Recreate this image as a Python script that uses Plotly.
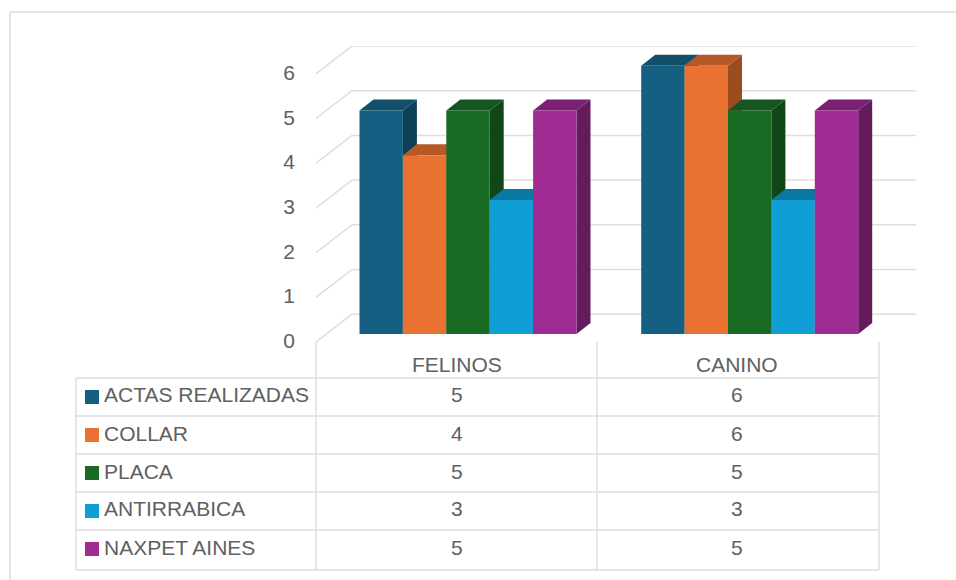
import plotly.graph_objects as go

# ---- data -------------------------------------------------------------
categories = ["FELINOS", "CANINO"]
series_names = ["ACTAS REALIZADAS", "COLLAR", "PLACA", "ANTIRRABICA", "NAXPET AINES"]
actas = [5, 6]
collar = [4, 6]
placa = [5, 5]
antirrabica = [3, 3]
naxpet = [5, 5]
y_ticks = [0, 1, 2, 3, 4, 5, 6]

series_values = [actas, collar, placa, antirrabica, naxpet]
front_colors = ["#156082", "#E97132", "#196B24", "#0F9ED5", "#A02B93"]
top_colors = ["#114F6B", "#B55A27", "#14561D", "#0B77A3", "#7A2171"]
side_colors = ["#0D3F56", "#9C4D1F", "#104718", "#096A91", "#641B5C"]

# ---- layout geometry (page pixels) ------------------------------------
W, H = 956, 580
PL, PR, PT, PB = 316, 916, 46, 342     # plot box
ZERO_PX = 334                          # bar plane zero
UNIT_PX = 44.7                         # pixels per value unit
LABEL_ZERO_PX, LABEL_UNIT_PX = 340.5, 44.6   # value labels sit on the front plane
CAT0_PX, CAT_STEP = 468, 281.7         # first category centre, spacing
BAR_PX = 43.4
DEPTH_X, DEPTH_Y = 14, 11
WALL_X = 36
FONT = "Liberation Sans"
FONT_SIZE = 21
GREY = "#606060"
LINE = "#DEDEDE"

def px(p):  # page x -> paper
    return (p - PL) / (PR - PL)
def py(p):  # page y -> paper
    return (PB - p) / (PB - PT)

xrange_ = [(PL - CAT0_PX) / CAT_STEP, (PR - CAT0_PX) / CAT_STEP]
yrange = [(ZERO_PX - PB) / UNIT_PX, (ZERO_PX - PT) / UNIT_PX]
dx, dy = DEPTH_X / CAT_STEP, DEPTH_Y / UNIT_PX
bw = BAR_PX / CAT_STEP
positions = list(range(len(categories)))

fig = go.Figure()
shapes = []
annotations = []

def line_paper(x0, y0, x1, y1, width=1.5, color=LINE):
    shapes.append(dict(type="line", xref="paper", yref="paper", x0=px(x0), y0=py(y0),
                       x1=px(x1), y1=py(y1), line=dict(color=color, width=width), layer="below"))

# back wall gridlines and slanted side lines
back_off = (ZERO_PX - PT) / UNIT_PX - 6                 # back plane offset in value units
front_off = (ZERO_PX - PB) / UNIT_PX                    # front plane offset
wall = WALL_X / CAT_STEP
for v in y_ticks:
    shapes.append(dict(type="line", xref="x", yref="y", x0=xrange_[0] + wall, x1=xrange_[1],
                       y0=v + back_off, y1=v + back_off, line=dict(color=LINE, width=1.5), layer="below"))
    shapes.append(dict(type="line", xref="x", yref="y", x0=xrange_[0], x1=xrange_[0] + wall,
                       y0=v + front_off, y1=v + back_off, line=dict(color=LINE, width=1.5), layer="below"))

# 3-D faces of the bars, built from the values
n = len(series_values)
for c, pos in enumerate(positions):
    for s, vals in enumerate(series_values):
        v = vals[c]
        x0 = pos + (s - n / 2) * bw
        x1 = x0 + bw
        top = f"M {x0} {v} L {x0+dx} {v+dy} L {x1+dx} {v+dy} L {x1} {v} Z"
        side = f"M {x1} 0 L {x1+dx} {dy} L {x1+dx} {v+dy} L {x1} {v} Z"
        shapes.append(dict(type="path", xref="x", yref="y", path=side, fillcolor=side_colors[s],
                           line=dict(width=0), layer="between"))
        shapes.append(dict(type="path", xref="x", yref="y", path=top, fillcolor=top_colors[s],
                           line=dict(width=0), layer="between"))

# front faces
for s, name in enumerate(series_names):
    fig.add_trace(go.Bar(x=positions, y=series_values[s], name=name,
                         marker=dict(color=front_colors[s], line=dict(width=0)),
                         showlegend=False, hoverinfo="x+y"))

# invisible trace that carries the front-plane value axis
fig.add_trace(go.Scatter(x=[positions[0]] * len(y_ticks), y=y_ticks, yaxis="y2", mode="markers",
                         marker=dict(opacity=0), showlegend=False, hoverinfo="skip"))

# data table
T_LEFT, T_C0, T_C1, T_C2 = 76, 316, 597, 879
ROWS = [378, 416, 454, 492, 530, 570]
for y in ROWS:
    line_paper(T_LEFT, y, T_C2, y)
line_paper(T_LEFT, ROWS[0], T_LEFT, ROWS[-1])
for x in (T_C0, T_C1, T_C2):
    line_paper(x, PB, x, ROWS[-1])

def text(x, y, t, anchor="center"):
    annotations.append(dict(xref="paper", yref="paper", x=px(x), y=py(y), text=t, showarrow=False,
                            xanchor=anchor, yanchor="middle", xshift=0,
                            font=dict(family=FONT, size=FONT_SIZE, color=GREY)))

col_centres = [457, 737]
for c, name in enumerate(categories):
    text(col_centres[c], 364, name)
for s, name in enumerate(series_names):
    row_top = ROWS[s]
    swatch_y = row_top + 19
    text_y = row_top + 17
    shapes.append(dict(type="rect", xref="paper", yref="paper", x0=px(85), x1=px(99),
                       y0=py(swatch_y - 7), y1=py(swatch_y + 7), fillcolor=front_colors[s], line=dict(width=0)))
    text(102, text_y, name, "left")
    for c in range(len(categories)):
        text(col_centres[c], text_y, str(series_values[s][c]))

# outer chart frame: only the top and left edges fall inside the picture
line_paper(10, 12, W, 12, 2, "#E4E4E4")
line_paper(10, 12, 10, H, 2, "#E4E4E4")

fig.update_layout(
    width=W, height=H, autosize=False,
    margin=dict(l=PL, r=W - PR, t=PT, b=H - PB, pad=0),
    paper_bgcolor="white", plot_bgcolor="rgba(0,0,0,0)",
    barmode="group", bargap=1 - n * bw, bargroupgap=0,
    showlegend=False,
    xaxis=dict(range=xrange_, showgrid=False, zeroline=False, showticklabels=False, ticks="",
               showline=False, fixedrange=True),
    yaxis=dict(range=yrange, showgrid=False, zeroline=False, showticklabels=False, ticks="",
               showline=False, fixedrange=True),
    yaxis2=dict(range=[(LABEL_ZERO_PX - PB) / LABEL_UNIT_PX, (LABEL_ZERO_PX - PT) / LABEL_UNIT_PX],
                overlaying="y", side="left", anchor="x",
                tickvals=y_ticks, ticktext=[str(t) for t in y_ticks], showgrid=False, zeroline=False,
                showline=False, ticks="", ticklabelstandoff=20,
                tickfont=dict(family=FONT, size=FONT_SIZE, color=GREY), fixedrange=True),
    shapes=shapes, annotations=annotations,
)

fig.write_html("out.html", config=dict(displayModeBar=False),
               post_script="document.body.style.margin='0';")
